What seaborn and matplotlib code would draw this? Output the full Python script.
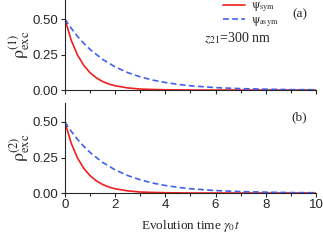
import numpy as np
import pandas as pd
import seaborn as sns
import matplotlib.pyplot as plt

# values (both panels look the same)
t_sym = [0, 0.25, 0.5, 0.75, 1.0, 1.25, 1.5, 1.75, 2.0, 2.5, 3.0, 3.5, 4.0, 5.0, 6.0, 8.0, 10.0]
rho_sym = [0.500, 0.351, 0.247, 0.174, 0.122, 0.086, 0.060, 0.042, 0.030, 0.015, 0.007, 0.004, 0.002, 0.000, 0.000, 0.000, 0.000]

t_asym = [0, 0.25, 0.5, 0.75, 1.0, 1.5, 2.0, 2.5, 3.0, 3.5, 4.0, 4.5, 5.0, 6.0, 7.0, 8.0, 9.0, 10.0]
rho_asym = [0.500, 0.435, 0.378, 0.329, 0.286, 0.216, 0.163, 0.123, 0.093, 0.070, 0.053, 0.040, 0.030, 0.017, 0.010, 0.006, 0.003, 0.002]

panel_tags = ["(a)", "(b)"]
ylabels = [r"$\mathrm{\rho}^{(1)}_{\mathrm{exc}}$", r"$\mathrm{\rho}^{(2)}_{\mathrm{exc}}$"]

sns.set_style("ticks")
plt.rcParams["font.family"] = ["Liberation Sans", "DejaVu Sans"]
plt.rcParams["mathtext.fontset"] = "stix"

df_sym = pd.DataFrame({"t": t_sym, "rho": rho_sym})
df_asym = pd.DataFrame({"t": t_asym, "rho": rho_asym})

fig = plt.figure(figsize=(3.23, 2.44), dpi=100)
ax1 = fig.add_axes([0.201, 0.631, 0.777, 0.369])
ax2 = fig.add_axes([0.201, 0.209, 0.777, 0.369])

for i, ax in enumerate([ax1, ax2]):
    sns.lineplot(data=df_sym, x="t", y="rho", ax=ax, color="#f02020", lw=1.2,
                 label=r"$\mathrm{\psi}_{\mathrm{sym}}$")
    sns.lineplot(data=df_asym, x="t", y="rho", ax=ax, color="#4060f0", lw=1.2,
                 linestyle=(0, (3.5, 2)), label=r"$\mathrm{\psi}_{\mathrm{asym}}$")
    ax.set_xlim(0, 10)
    ax.set_ylim(0, 0.634)
    ax.set_xticks([0, 2, 4, 6, 8, 10])
    ax.set_xticks([1, 3, 5, 7, 9], minor=True)
    ax.set_yticks([0, 0.25, 0.5])
    ax.set_yticklabels(["0.00", "0.25", "0.50"])
    ax.tick_params(labelsize=9.5, length=3, width=0.8, pad=1.5)
    ax.tick_params(which="minor", length=2, width=0.8)
    for s in ["top", "right"]:
        ax.spines[s].set_visible(False)
    ax.set_ylabel(ylabels[i], fontsize=13, labelpad=1)
    ax.set_xlabel("")
    ax.text(0.935, 0.84, panel_tags[i], transform=ax.transAxes, ha="center", va="center",
            fontsize=9.5, family="Liberation Serif")
    if i == 0:
        ax.tick_params(labelbottom=False)
        ax.legend(loc="upper left", bbox_to_anchor=(0.6, 1.08), frameon=False,
                  fontsize=8.5, handlelength=1.9, handletextpad=0.5, labelspacing=0.0,
                  borderpad=0.1)
        ax.text(0.555, 0.58, r"$z_{21}$=300 nm", transform=ax.transAxes,
                fontsize=10, family="Liberation Serif", ha="left", va="center")
    else:
        ax.get_legend().remove()

ax2.set_xlabel(r"Evolution time $\gamma_0t$", fontsize=9.5, family="Liberation Serif", labelpad=5)

fig.savefig("out.png", dpi=100)
